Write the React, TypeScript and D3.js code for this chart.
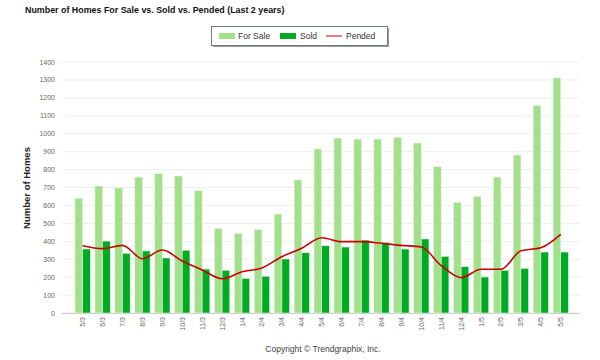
import * as d3 from "d3";
import { useEffect, useRef } from "react";

const months = [
  "5/3", "6/3", "7/3", "8/3", "9/3", "10/3", "11/3", "12/3", "1/4", "2/4", "3/4", "4/4", "5/4",
  "6/4", "7/4", "8/4", "9/4", "10/4", "11/4", "12/4", "1/5", "2/5", "3/5", "4/5", "5/5",
];
const forSale = [640, 708, 697, 758, 777, 764, 682, 472, 444, 465, 552, 742, 915,
  976, 970, 970, 980, 948, 816, 617, 651, 758, 881, 1158, 1312];
const sold = [357, 401, 333, 346, 307, 350, 245, 238, 193, 205, 301, 336, 375,
  368, 407, 394, 357, 413, 316, 258, 201, 238, 249, 340, 340];
const pended = [375, 359, 377, 303, 351, 290, 240, 191, 230, 251, 314, 361, 420,
  398, 398, 389, 377, 368, 264, 197, 244, 244, 347, 364, 439];
const yTicks = [0, 100, 200, 300, 400, 500, 600, 700, 800, 900, 1000, 1100, 1200, 1300, 1400];

const LIGHT = "#a3e08c";
const DARK = "#00aa22";
const RED = "#cc0000";

const App = () => {
  const ref = useRef<SVGSVGElement>(null);

  useEffect(() => {
    const svg = d3.select(ref.current);
    svg.selectAll("*").remove();

    const x = d3.scaleBand().domain(months).range([72.7, 570.7]).paddingInner(0.23).paddingOuter(0.115);
    const sub = d3.scaleBand().domain(["a", "b"]).range([0, x.bandwidth()]);
    const y = d3.scaleLinear().domain([0, 1400]).range([313, 62]);

    // gridlines
    svg.append("g")
      .selectAll("line")
      .data(yTicks)
      .join("line")
      .attr("x1", 62).attr("x2", 580)
      .attr("y1", d => y(d)).attr("y2", d => y(d))
      .attr("stroke", "#eeeeee");

    // y axis labels
    svg.append("g")
      .selectAll("text")
      .data(yTicks)
      .join("text")
      .attr("x", 55).attr("y", d => y(d) + 2.5)
      .attr("text-anchor", "end")
      .attr("font-size", 7)
      .attr("fill", "#666")
      .text(d => d);

    // x axis line
    svg.append("line")
      .attr("x1", 62).attr("x2", 580).attr("y1", 313.5).attr("y2", 313.5)
      .attr("stroke", "#ccc");

    const groups = svg.append("g")
      .selectAll("g")
      .data(months)
      .join("g")
      .attr("transform", d => `translate(${x(d)},0)`);

    groups.append("rect")
      .attr("x", sub("a")!)
      .attr("width", sub.bandwidth())
      .attr("y", (_, i) => y(forSale[i]))
      .attr("height", (_, i) => y(0) - y(forSale[i]))
      .attr("fill", LIGHT)
      .attr("stroke", "#e6f7df").attr("stroke-width", 0.6);

    groups.append("rect")
      .attr("x", sub("b")!)
      .attr("width", sub.bandwidth())
      .attr("y", (_, i) => y(sold[i]))
      .attr("height", (_, i) => y(0) - y(sold[i]))
      .attr("fill", DARK)
      .attr("stroke", "#d9f2dc").attr("stroke-width", 0.6);

    // pended line
    const line = d3.line<number>()
      .x((_, i) => x(months[i])! + x.bandwidth() / 2)
      .y(d => y(d))
      .curve(d3.curveMonotoneX);
    svg.append("path")
      .attr("d", line(pended))
      .attr("fill", "none")
      .attr("stroke", RED)
      .attr("stroke-width", 1.6);

    // x labels
    svg.append("g")
      .selectAll("text")
      .data(months)
      .join("text")
      .attr("transform", d => `translate(${x(d)! + x.bandwidth() / 2 + 2.5},317) rotate(-90)`)
      .attr("text-anchor", "end")
      .attr("font-size", 7)
      .attr("fill", "#666")
      .text(d => d);

    // title
    svg.append("text")
      .attr("x", 25).attr("y", 13)
      .attr("font-size", 8.9).attr("font-weight", "bold")
      .attr("fill", "#111")
      .text("Number of Homes For Sale vs. Sold vs. Pended (Last 2 years)");

    // y title
    svg.append("text")
      .attr("transform", "translate(30,188) rotate(-90)")
      .attr("text-anchor", "middle")
      .attr("font-size", 9.5).attr("font-weight", "bold")
      .attr("fill", "#222")
      .text("Number of Homes");

    // legend
    const lg = svg.append("g").attr("transform", "translate(211,26)");
    lg.append("rect").attr("x", 2).attr("y", 2).attr("width", 176).attr("height", 19).attr("fill", "#999");
    lg.append("rect").attr("x", 0.5).attr("y", 0.5).attr("width", 176).attr("height", 19)
      .attr("fill", "#fff").attr("stroke", "#6d7b8d");
    lg.append("rect").attr("x", 8).attr("y", 7).attr("width", 16).attr("height", 6).attr("fill", LIGHT);
    lg.append("text").attr("x", 27).attr("y", 13).attr("font-size", 8.5).attr("fill", "#333").text("For Sale");
    lg.append("rect").attr("x", 69).attr("y", 7).attr("width", 16).attr("height", 6).attr("fill", DARK);
    lg.append("text").attr("x", 89).attr("y", 13).attr("font-size", 8.5).attr("fill", "#333").text("Sold");
    lg.append("line").attr("x1", 115).attr("x2", 131).attr("y1", 10).attr("y2", 10).attr("stroke", RED).attr("stroke-width", 1);
    lg.append("text").attr("x", 135).attr("y", 13).attr("font-size", 8.5).attr("fill", "#333").text("Pended");

    // copyright
    svg.append("text")
      .attr("x", 323).attr("y", 352)
      .attr("text-anchor", "middle")
      .attr("font-size", 8.5)
      .attr("fill", "#444")
      .text("Copyright \u00a9 Trendgraphix, Inc.");
  }, []);

  return (
    <svg
      ref={ref}
      width={600}
      height={360}
      style={{ position: "absolute", left: 0, top: 0, fontFamily: "Arial, 'Liberation Sans', sans-serif", background: "#fff" }}
    />
  );
};

export default App;
